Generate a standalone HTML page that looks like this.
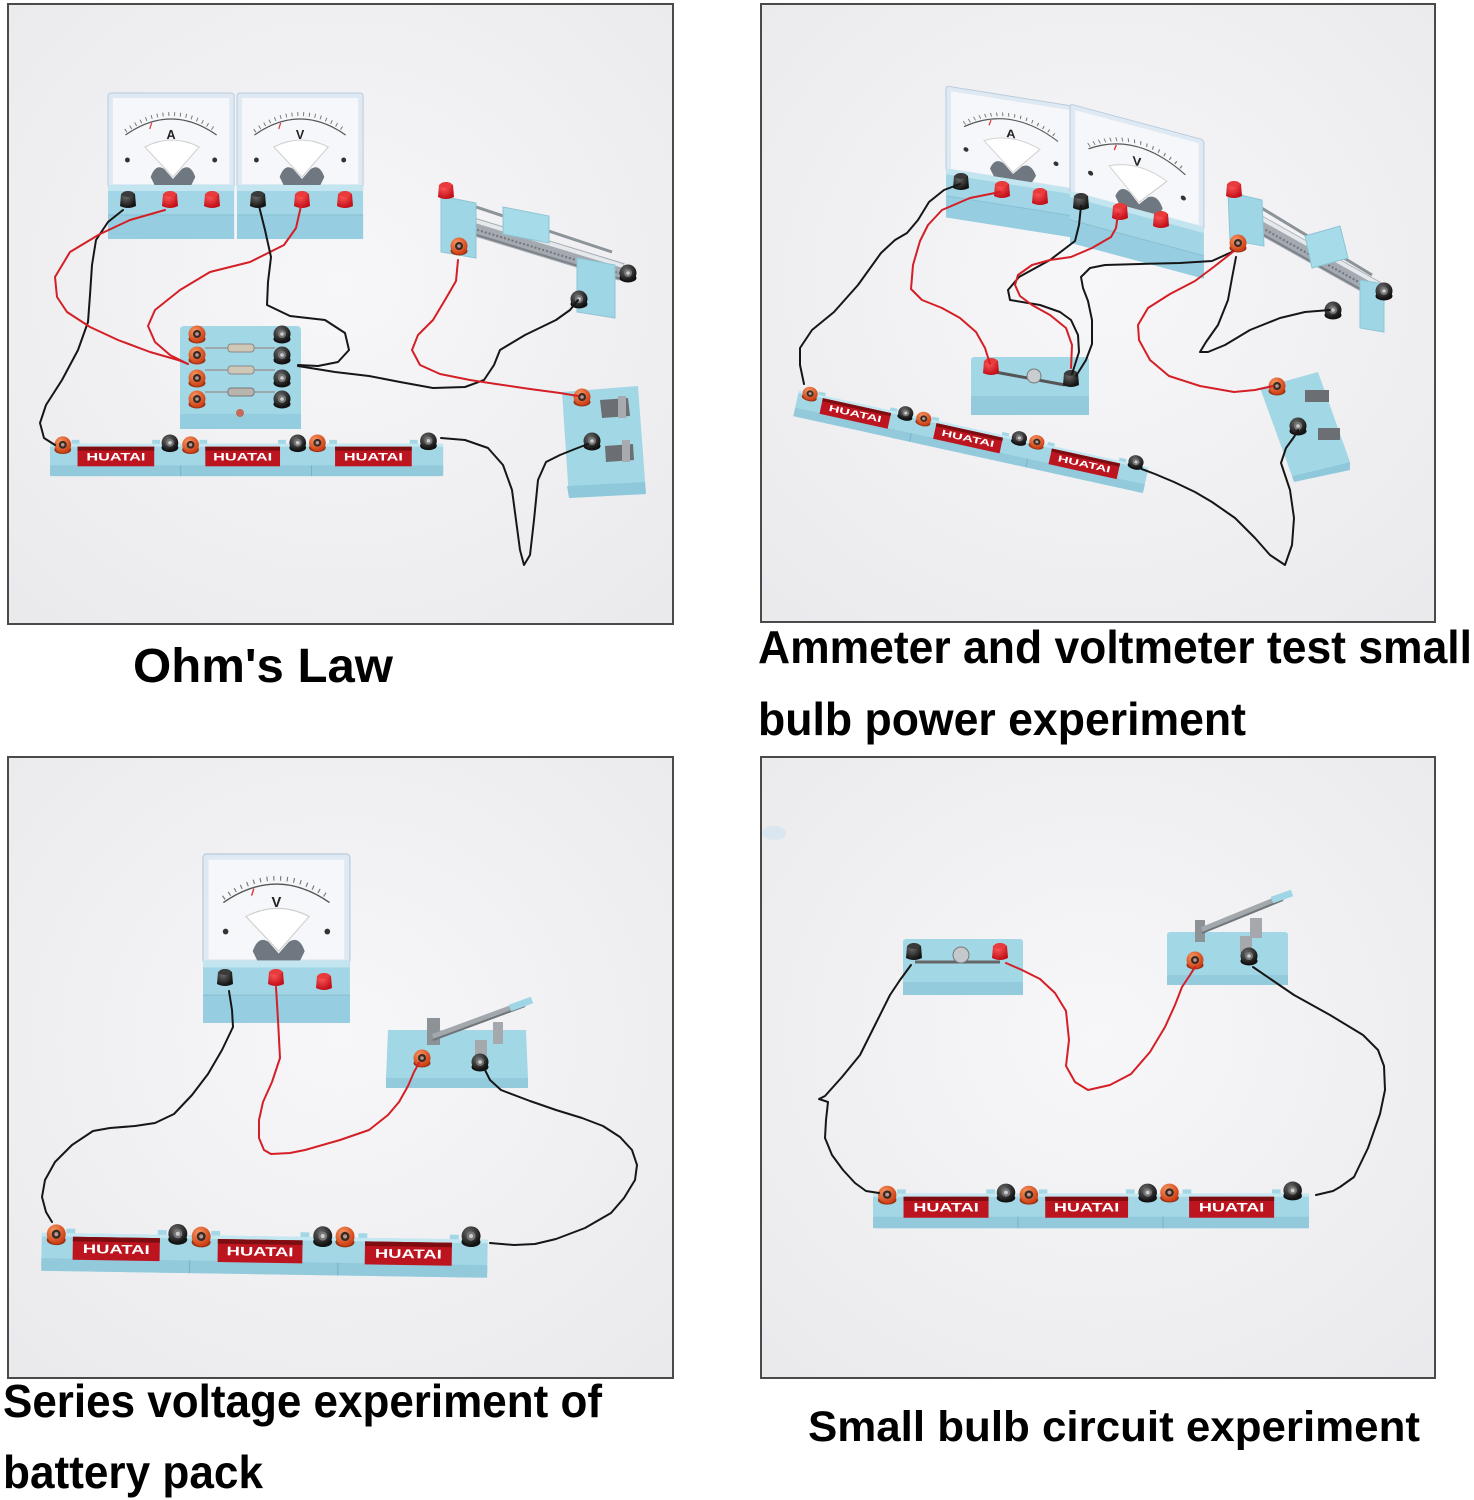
<!DOCTYPE html>
<html>
<head>
<meta charset="utf-8">
<style>
html,body{margin:0;padding:0;background:#fff;}
svg{display:block;}
.cap{font-family:"Liberation Sans",Arial,sans-serif;font-weight:bold;fill:#000;}
</style>
</head>
<body>
<svg width="1474" height="1500" viewBox="0 0 1474 1500" xmlns="http://www.w3.org/2000/svg">
<defs>
  <radialGradient id="bg" cx="50%" cy="45%" r="72%">
    <stop offset="0" stop-color="#f7f7f9"/>
    <stop offset="1" stop-color="#eaeaed"/>
  </radialGradient>
  <radialGradient id="gO" cx="38%" cy="32%" r="65%">
    <stop offset="0" stop-color="#f7965f"/>
    <stop offset="1" stop-color="#cf4117"/>
  </radialGradient>
  <radialGradient id="gK" cx="38%" cy="32%" r="65%">
    <stop offset="0" stop-color="#6a6a6a"/>
    <stop offset="1" stop-color="#141414"/>
  </radialGradient>
  <radialGradient id="gR" cx="38%" cy="30%" r="70%">
    <stop offset="0" stop-color="#ff5a5a"/>
    <stop offset="1" stop-color="#c20f18"/>
  </radialGradient>

  <g id="po">
    <ellipse cx="0" cy="5" rx="8.5" ry="4.5" fill="#9b3315"/>
    <circle r="8.5" fill="url(#gO)"/>
    <circle r="4" fill="#3a2a26"/>
    <circle r="1.8" fill="#b49a8e"/>
  </g>
  <g id="pk">
    <ellipse cx="0" cy="5" rx="8.5" ry="4.5" fill="#111"/>
    <circle r="8.5" fill="url(#gK)"/>
    <circle r="4" fill="#777"/>
    <circle r="1.8" fill="#ccc"/>
  </g>
  <g id="tR">
    <path d="M-8 7 L-7 -5 Q0 -11 7 -5 L8 7 Q0 11 -8 7Z" fill="url(#gR)"/>
    <ellipse cx="0" cy="-5" rx="6" ry="3" fill="#e93b3b"/>
  </g>
  <g id="tK">
    <path d="M-8 7 L-7 -5 Q0 -11 7 -5 L8 7 Q0 11 -8 7Z" fill="url(#gK)"/>
    <ellipse cx="0" cy="-5" rx="6" ry="3" fill="#3a3a3a"/>
  </g>

  <g id="meter">
    <rect x="0" y="0" width="130" height="95" rx="3" fill="#dfe9f3" stroke="#b7cadb"/>
    <rect x="5" y="5" width="120" height="86" fill="#f6f7fa"/>
    <path d="M18 38 Q65 4 112 38" fill="none" stroke="#777" stroke-width="4" stroke-dasharray="1 5"/>
    <path d="M18 42 Q65 10 112 42" fill="none" stroke="#555" stroke-width="1.2"/>
    <path d="M45 30 l-2 6" stroke="#d33" stroke-width="1.2"/>
    <path d="M38 54 Q66 40 94 54 L67 84 Z" fill="#fff" stroke="#cfcfcf"/>
    <path d="M44 84 Q49 70 58 76 L67 86 L76 76 Q85 70 90 84 L86 92 L48 92Z" fill="#6f7880"/>
    <circle cx="20" cy="67" r="2.5" fill="#333"/>
    <circle cx="110" cy="67" r="2.5" fill="#333"/>
    <rect x="0" y="92" width="130" height="54" fill="#a2d5e5"/>
    <rect x="0" y="92" width="130" height="6" fill="#c2e5ef"/>
    <rect x="0" y="122" width="130" height="24" fill="#96cde0"/>
    <line x1="0" y1="122" x2="130" y2="122" stroke="#86bfd3"/>
  </g>

  <g id="bat">
    <rect x="22" y="8" width="8" height="8" fill="#a3d7e6"/>
    <rect x="104" y="8" width="8" height="8" fill="#a3d7e6"/>
    <rect x="152" y="8" width="8" height="8" fill="#a3d7e6"/>
    <rect x="232" y="8" width="8" height="8" fill="#a3d7e6"/>
    <rect x="284" y="8" width="8" height="8" fill="#a3d7e6"/>
    <rect x="366" y="8" width="8" height="8" fill="#a3d7e6"/>
    <path d="M0 12 H400 V40 Q400 45 395 45 H5 Q0 45 0 40Z" fill="#a3d7e6"/>
    <rect x="0" y="12" width="400" height="3" fill="#c4e8f2"/>
    <rect x="0" y="34" width="400" height="11" fill="#92cadc"/>
    <path d="M133 34 V45 M266 34 V45" stroke="#78b2c6"/>
    <rect x="28" y="15" width="78" height="20" fill="#bd1520"/>
    <rect x="28" y="15" width="78" height="4" fill="#7e0d12"/>
    <text x="67" y="29" font-family="Liberation Sans, sans-serif" font-weight="bold" font-size="11" fill="#fff" text-anchor="middle" textLength="60" lengthAdjust="spacingAndGlyphs">HUATAI</text>
    <rect x="158" y="15" width="76" height="20" fill="#bd1520"/>
    <rect x="158" y="15" width="76" height="4" fill="#7e0d12"/>
    <text x="196" y="29" font-family="Liberation Sans, sans-serif" font-weight="bold" font-size="11" fill="#fff" text-anchor="middle" textLength="60" lengthAdjust="spacingAndGlyphs">HUATAI</text>
    <rect x="290" y="15" width="78" height="20" fill="#bd1520"/>
    <rect x="290" y="15" width="78" height="4" fill="#7e0d12"/>
    <text x="329" y="29" font-family="Liberation Sans, sans-serif" font-weight="bold" font-size="11" fill="#fff" text-anchor="middle" textLength="60" lengthAdjust="spacingAndGlyphs">HUATAI</text>
    <use href="#po" x="13" y="13"/>
    <use href="#pk" x="122" y="11"/>
    <use href="#po" x="143" y="13"/>
    <use href="#pk" x="252" y="11"/>
    <use href="#po" x="272" y="11"/>
    <use href="#pk" x="385" y="9"/>
  </g>
</defs>

<rect x="8" y="4" width="665" height="620" fill="url(#bg)"/>
<rect x="761" y="4" width="674" height="618" fill="url(#bg)"/>
<rect x="8" y="757" width="665" height="621" fill="url(#bg)"/>
<rect x="761" y="757" width="674" height="621" fill="url(#bg)"/>

<!-- PANEL 1 -->
<g transform="translate(108,93) scale(0.97,1)"><use href="#meter"/>
  <text x="65" y="46" font-family="Liberation Sans, sans-serif" font-weight="bold" font-size="13" text-anchor="middle" fill="#222">A</text></g>
<g transform="translate(237,93) scale(0.97,1)"><use href="#meter"/>
  <text x="65" y="46" font-family="Liberation Sans, sans-serif" font-weight="bold" font-size="13" text-anchor="middle" fill="#222">V</text></g>
<use href="#tK" x="128" y="199"/><use href="#tR" x="170" y="199"/><use href="#tR" x="212" y="199"/>
<use href="#tK" x="258" y="199"/><use href="#tR" x="302" y="199"/><use href="#tR" x="345" y="199"/>

<line x1="455" y1="200" x2="612" y2="252" stroke="#8c949a" stroke-width="3"/>
<line x1="458" y1="222" x2="622" y2="272" stroke="#a4aab0" stroke-width="18"/>
<line x1="459" y1="216" x2="623" y2="266" stroke="#e6e9ec" stroke-width="4"/>
<line x1="458" y1="224" x2="622" y2="274" stroke="#6f767d" stroke-width="2" stroke-dasharray="2 2"/>
<line x1="457" y1="229" x2="621" y2="279" stroke="#7b8289" stroke-width="2"/>
<polygon points="441,196 476,203 476,258 441,252" fill="#9fd6e6" stroke="#8cc5d6"/>
<polygon points="503,207 549,216 549,243 503,234" fill="#a6dbe9" stroke="#8cc5d6"/>
<polygon points="577,258 615,265 615,318 577,312" fill="#9fd6e6" stroke="#8cc5d6"/>
<use href="#tR" x="446" y="190"/>
<use href="#po" x="459" y="246"/>
<use href="#pk" x="628" y="273"/>
<use href="#pk" x="579" y="299"/>

<rect x="180" y="326" width="121" height="103" rx="4" fill="#a2d7e6"/>
<rect x="180" y="414" width="121" height="15" fill="#94cde0"/>
<line x1="205" y1="348" x2="275" y2="348" stroke="#999" stroke-width="1.5"/>
<rect x="228" y="344" width="26" height="8" rx="3" fill="#cfc8b6" stroke="#888"/>
<line x1="205" y1="370" x2="275" y2="370" stroke="#999" stroke-width="1.5"/>
<rect x="228" y="366" width="26" height="8" rx="3" fill="#cfc8b6" stroke="#888"/>
<line x1="205" y1="392" x2="275" y2="392" stroke="#999" stroke-width="1.5"/>
<rect x="228" y="388" width="26" height="8" rx="3" fill="#b9b4ae" stroke="#777"/>
<circle cx="240" cy="413" r="4" fill="#c86a5a"/>
<use href="#po" x="197" y="334"/><use href="#po" x="197" y="355"/><use href="#po" x="197" y="378"/><use href="#po" x="197" y="399"/>
<use href="#pk" x="282" y="334"/><use href="#pk" x="282" y="355"/><use href="#pk" x="282" y="378"/><use href="#pk" x="282" y="399"/>

<g transform="translate(50,432) scale(0.983,0.98)"><use href="#bat"/></g>

<polygon points="562,392 638,386 646,494 569,498" fill="#a2d7e6"/>
<polygon points="567,486 645,482 646,494 569,498" fill="#8fc8db"/>
<path d="M600 400 L628 398 L630 416 L602 418Z" fill="#6b6e72"/>
<path d="M605 446 L633 444 L634 460 L606 462Z" fill="#6b6e72"/>
<rect x="618" y="396" width="8" height="22" fill="#a7abaf"/>
<rect x="622" y="440" width="8" height="22" fill="#a7abaf"/>
<use href="#po" x="582" y="397"/>
<use href="#pk" x="592" y="441"/>

<g fill="none" stroke-width="2" stroke-linejoin="round" stroke-linecap="round">
<polyline stroke="#161616" points="123,210 108,222 96,240 92,265 90,295 88,322 78,350 62,380 46,405 40,423 44,438 55,445"/>
<polyline stroke="#d41f26" points="165,210 130,220 100,234 70,252 55,277 57,297 67,312 90,327 118,340 150,352 178,360 188,364"/>
<polyline stroke="#d41f26" points="301,206 296,228 284,245 250,262 210,272 180,290 155,310 148,326 155,342 170,355 188,364"/>
<polyline stroke="#161616" points="259,206 265,230 271,257 268,282 267,305 290,316 325,320 345,333 349,350 338,362 318,366 298,365"/>
<polyline stroke="#161616" points="298,366 335,372 369,376 400,382 433,388 465,387 484,380 494,365 500,350 525,335 556,320 570,310 578,300"/>
<polyline stroke="#d41f26" points="458,260 456,281 445,300 433,320 418,335 412,350 420,365 440,374 470,380 496,384 530,389 560,393 578,396"/>
<polyline stroke="#161616" points="441,438 465,440 488,448 503,465 512,490 516,520 520,550 524,565 530,555 534,520 538,480 546,462 560,455 575,449 588,444"/>
</g>

<!-- PANEL 2 -->
<g transform="translate(946,86) skewY(9) scale(1,0.9)"><use href="#meter"/>
  <text x="65" y="46" font-family="Liberation Sans, sans-serif" font-weight="bold" font-size="13" text-anchor="middle" fill="#222">A</text></g>
<g transform="translate(1070,104) skewY(15) scale(1.03,0.95)"><use href="#meter"/>
  <text x="65" y="46" font-family="Liberation Sans, sans-serif" font-weight="bold" font-size="13" text-anchor="middle" fill="#222">V</text></g>
<use href="#tK" x="961" y="181"/><use href="#tR" x="1002" y="189"/><use href="#tR" x="1040" y="196"/>
<use href="#tK" x="1081" y="201"/><use href="#tR" x="1120" y="211"/><use href="#tR" x="1161" y="219"/>

<line x1="1240" y1="195" x2="1372" y2="275" stroke="#8c949a" stroke-width="3"/>
<line x1="1248" y1="218" x2="1380" y2="292" stroke="#a4aab0" stroke-width="18"/>
<line x1="1250" y1="212" x2="1382" y2="286" stroke="#e6e9ec" stroke-width="4"/>
<line x1="1248" y1="220" x2="1380" y2="294" stroke="#6f767d" stroke-width="2" stroke-dasharray="2 2"/>
<line x1="1246" y1="225" x2="1378" y2="299" stroke="#7b8289" stroke-width="2"/>
<polygon points="1228,192 1262,200 1264,246 1230,240" fill="#9fd6e6" stroke="#8cc5d6"/>
<polygon points="1305,236 1340,226 1348,258 1312,268" fill="#a6dbe9" stroke="#8cc5d6"/>
<polygon points="1360,280 1384,284 1384,332 1360,328" fill="#9fd6e6" stroke="#8cc5d6"/>
<use href="#tR" x="1234" y="189"/>
<use href="#po" x="1238" y="243"/>
<use href="#pk" x="1384" y="291"/>
<use href="#pk" x="1333" y="310"/>

<rect x="971" y="357" width="118" height="58" rx="3" fill="#a2d7e6"/>
<rect x="971" y="396" width="118" height="19" fill="#93cbdd"/>
<line x1="995" y1="372" x2="1065" y2="385" stroke="#555" stroke-width="3"/>
<circle cx="1034" cy="376" r="7" fill="#c9ccd0" stroke="#777"/>
<use href="#tR" x="991" y="366"/>
<use href="#tK" x="1071" y="378"/>

<g transform="translate(801,381) rotate(12.4) scale(0.895,0.8)"><use href="#bat"/></g>

<polygon points="1260,388 1318,372 1350,462 1292,476" fill="#a2d7e6"/>
<polygon points="1292,476 1350,462 1350,470 1294,482" fill="#8fc8db"/>
<rect x="1305" y="390" width="24" height="12" fill="#6b6e72"/>
<rect x="1318" y="428" width="22" height="12" fill="#6b6e72"/>
<use href="#po" x="1277" y="386"/>
<use href="#pk" x="1298" y="426"/>

<g fill="none" stroke-width="2" stroke-linejoin="round" stroke-linecap="round">
<polyline stroke="#161616" points="804,384 800,365 800,348 812,330 834,312 858,285 881,253 895,240 907,233 918,220 929,202 944,190 960,184"/>
<polyline stroke="#d41f26" points="1000,192 970,198 942,210 928,225 920,241 913,265 911,289 922,300 942,308 960,318 976,332 985,348 990,364"/>
<polyline stroke="#161616" points="1081,206 1079,225 1075,241 1050,260 1019,277 1008,290 1010,300 1040,305 1060,312 1071,320 1078,335 1079,352 1072,374"/>
<polyline stroke="#d41f26" points="1118,214 1116,228 1111,237 1092,248 1071,257 1050,260 1032,265 1018,275 1015,285 1020,296 1032,305 1050,315 1066,328 1072,345 1071,368"/>
<polyline stroke="#161616" points="1076,376 1086,360 1092,344 1092,320 1088,301 1083,288 1081,277 1090,268 1105,265 1140,264 1180,263 1212,261 1234,251"/>
<polyline stroke="#d41f26" points="1234,251 1215,266 1195,281 1170,294 1148,308 1138,325 1139,340 1150,360 1169,376 1200,386 1234,392 1255,390 1273,386"/>
<polyline stroke="#161616" points="1236,257 1232,278 1228,300 1218,325 1206,342 1200,352 1208,352 1225,345 1250,330 1280,318 1305,312 1330,310"/>
<polyline stroke="#161616" points="1139,468 1155,474 1174,482 1195,492 1212,502 1235,518 1255,538 1270,555 1285,565 1292,545 1294,518 1290,490 1281,463 1286,448 1294,437 1298,430"/>
</g>

<!-- PANEL 3 -->
<g transform="translate(203,854) scale(1.13,1.157)"><use href="#meter"/>
  <text x="65" y="46" font-family="Liberation Sans, sans-serif" font-weight="bold" font-size="13" text-anchor="middle" fill="#222">V</text></g>
<use href="#tK" x="225" y="977"/><use href="#tR" x="276" y="977"/><use href="#tR" x="324" y="981"/>

<polygon points="388,1030 526,1030 528,1078 386,1078" fill="#a2d7e6"/>
<rect x="386" y="1078" width="142" height="10" fill="#93cbdd"/>
<rect x="427" y="1018" width="13" height="27" fill="#8d9297"/>
<rect x="493" y="1022" width="10" height="22" fill="#a5a9ad"/>
<rect x="475" y="1040" width="12" height="18" fill="#a5a9ad"/>
<line x1="433" y1="1037" x2="525" y2="1003" stroke="#a3a8ad" stroke-width="6"/>
<line x1="433" y1="1040" x2="525" y2="1006" stroke="#6f757b" stroke-width="2"/>
<line x1="510" y1="1008" x2="532" y2="1000" stroke="#9fd6e6" stroke-width="7"/>
<use href="#po" x="422" y="1058"/>
<use href="#pk" x="480" y="1062"/>

<g transform="translate(42,1219) rotate(0.9) scale(1.115,1.15)"><use href="#bat"/></g>

<g fill="none" stroke-width="2" stroke-linejoin="round" stroke-linecap="round">
<polyline stroke="#161616" points="229,991 232,1010 233,1027 222,1050 208,1074 192,1095 174,1114 155,1123 135,1126 110,1128 93,1131 72,1145 55,1162 45,1180 42,1197 46,1212 52,1222"/>
<polyline stroke="#d41f26" points="276,987 278,1020 280,1058 272,1082 263,1102 259,1120 259,1138 264,1150 271,1154 290,1153 305,1150 340,1140 369,1130 388,1115 399,1102 408,1086 414,1072 419,1063"/>
<polyline stroke="#161616" points="484,1068 490,1080 501,1090 530,1101 556,1110 582,1118 603,1126 620,1137 632,1150 637,1165 635,1180 624,1198 611,1213 585,1228 556,1239 535,1244 514,1245 490,1243"/>
</g>

<!-- PANEL 4 -->
<ellipse cx="774" cy="833" rx="12" ry="7" fill="#cfe3ee" opacity="0.6"/>

<rect x="903" y="939" width="120" height="56" rx="3" fill="#a2d7e6"/>
<rect x="903" y="982" width="120" height="13" fill="#93cbdd"/>
<line x1="915" y1="962" x2="1000" y2="962" stroke="#666" stroke-width="3"/>
<circle cx="961" cy="955" r="8" fill="#c6c9cc" stroke="#777"/>
<use href="#tK" x="914" y="951"/>
<use href="#tR" x="1000" y="951"/>

<rect x="1167" y="932" width="121" height="45" rx="3" fill="#a2d7e6"/>
<rect x="1167" y="975" width="121" height="10" fill="#93cbdd"/>
<rect x="1195" y="920" width="10" height="22" fill="#8d9297"/>
<rect x="1250" y="918" width="12" height="20" fill="#a5a9ad"/>
<rect x="1240" y="936" width="12" height="17" fill="#a5a9ad"/>
<line x1="1202" y1="930" x2="1283" y2="897" stroke="#a3a8ad" stroke-width="6"/>
<line x1="1202" y1="933" x2="1283" y2="900" stroke="#6f757b" stroke-width="2"/>
<line x1="1272" y1="900" x2="1292" y2="893" stroke="#9fd6e6" stroke-width="7"/>
<use href="#po" x="1195" y="960"/>
<use href="#pk" x="1249" y="956"/>

<g transform="translate(873,1181) scale(1.09,1.05)"><use href="#bat"/></g>

<g fill="none" stroke-width="2" stroke-linejoin="round" stroke-linecap="round">
<polyline stroke="#161616" points="911,965 900,980 890,995 875,1025 860,1055 842,1077 825,1096 819,1099 828,1102 826,1120 825,1138 832,1155 843,1170 855,1183 866,1191 879,1193"/>
<polyline stroke="#d41f26" points="1006,963 1022,970 1040,979 1055,993 1066,1011 1069,1040 1066,1066 1075,1082 1088,1090 1110,1085 1131,1074 1150,1052 1165,1027 1175,1005 1182,987 1190,975 1195,967"/>
<polyline stroke="#161616" points="1253,967 1272,980 1294,995 1330,1015 1363,1035 1378,1050 1384,1066 1385,1090 1380,1114 1368,1148 1354,1177 1340,1187 1333,1191 1316,1195"/>
</g>

<g fill="none" stroke="#4a4a4a" stroke-width="2">
<rect x="8" y="4" width="665" height="620"/>
<rect x="761" y="4" width="674" height="618"/>
<rect x="8" y="757" width="665" height="621"/>
<rect x="761" y="757" width="674" height="621"/>
</g>

<text class="cap" x="133" y="682" font-size="48" textLength="260" lengthAdjust="spacingAndGlyphs">Ohm's Law</text>
<text class="cap" x="758" y="663" font-size="46" textLength="714" lengthAdjust="spacingAndGlyphs">Ammeter and voltmeter test small</text>
<text class="cap" x="758" y="735" font-size="46" textLength="488" lengthAdjust="spacingAndGlyphs">bulb power experiment</text>
<text class="cap" x="3" y="1417" font-size="46" textLength="599" lengthAdjust="spacingAndGlyphs">Series voltage experiment of</text>
<text class="cap" x="3" y="1488" font-size="46" textLength="260" lengthAdjust="spacingAndGlyphs">battery pack</text>
<text class="cap" x="808" y="1441" font-size="43" textLength="612" lengthAdjust="spacingAndGlyphs">Small bulb circuit experiment</text>
</svg>
</body>
</html>
